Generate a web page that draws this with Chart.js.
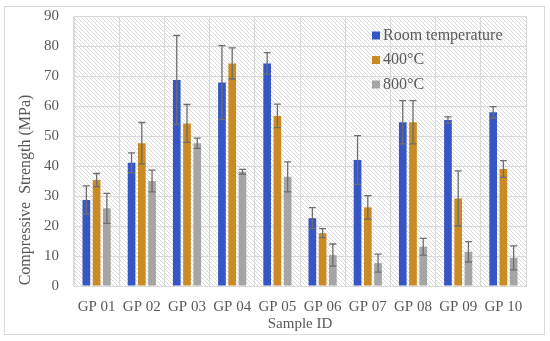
<!DOCTYPE html>
<html lang="en">
<head>
    <meta charset="UTF-8" />
    <title>Compressive Strength</title>
    <script src="https://cdn.jsdelivr.net/npm/chart.js"></script>
    <style>
        html, body { margin: 0; padding: 0; background: #fff; }
        #wrap { width: 550px; height: 341px; position: relative; }
    </style>
</head>

<body>

<div id="wrap">
    <canvas id="cs_chart" width="550" height="341"></canvas>
</div>

<script>
// sample ids
const labels = ["GP 01", "GP 02", "GP 03", "GP 04", "GP 05", "GP 06", "GP 07", "GP 08", "GP 09", "GP 10"];

// compressive strength (MPa) and error
const roomTemp    = [28.7, 41.1, 68.7, 67.8, 74.2, 22.6, 42.0, 54.6, 55.3, 57.9];
const roomTempErr = [4.7, 3.3, 14.8, 12.3, 3.6, 3.5, 8.1, 7.2, 1.1, 1.9];
const temp400     = [35.3, 47.6, 54.2, 74.2, 56.7, 17.6, 26.2, 54.6, 29.2, 39.0];
const temp400Err  = [2.2, 6.9, 6.3, 5.2, 3.9, 1.5, 3.9, 7.2, 9.2, 2.8];
const temp800     = [25.9, 35.0, 47.6, 38.1, 36.4, 10.3, 7.6, 13.1, 11.4, 9.4];
const temp800Err  = [5.0, 3.6, 1.7, 0.8, 5.0, 3.7, 3.0, 2.8, 3.4, 4.0];

const seriesNames = ["Room temperature", "400°C", "800°C"];
const yTitle = "Compressive  Strength (MPa)";

const textColor = "#595959";
const gridColor = "#d9d9d9";
const serif = "'Liberation Serif', 'DejaVu Serif', serif";

// hatched plot background
function makeHatch() {
    let c = document.createElement("canvas");
    c.width = 4; c.height = 4;
    let g = c.getContext("2d");
    g.fillStyle = "#fff";
    g.fillRect(0, 0, 4, 4);
    g.strokeStyle = "#d6d6d6";
    g.lineWidth = 0.9;
    g.beginPath();
    for (let k = -4; k <= 4; k += 4) {
        g.moveTo(-1, -1 + k);
        g.lineTo(5, 5 + k);
    }
    g.stroke();
    return c;
}

const backgroundPlugin = {
    id: "background",
    beforeDraw(chart) {
        let ctx = chart.ctx;
        let a = chart.chartArea;
        ctx.save();
        ctx.fillStyle = "#fff";
        ctx.fillRect(0, 0, chart.width, chart.height);
        ctx.strokeStyle = gridColor;
        ctx.lineWidth = 1;
        ctx.strokeRect(4.5, 6.5, 540, 328);
        ctx.fillStyle = ctx.createPattern(makeHatch(), "repeat");
        ctx.fillRect(a.left, a.top, a.right - a.left, a.bottom - a.top);
        ctx.restore();
    }
};

const errorBarPlugin = {
    id: "errorBars",
    afterDatasetsDraw(chart) {
        let ctx = chart.ctx;
        let y = chart.scales.y;
        ctx.save();
        ctx.strokeStyle = "#6e6e6e";
        ctx.lineWidth = 1.3;
        chart.data.datasets.forEach((ds, i) => {
            let meta = chart.getDatasetMeta(i);
            meta.data.forEach((bar, j) => {
                let v = ds.data[j], e = ds.errors[j];
                let top = y.getPixelForValue(v + e);
                let bot = y.getPixelForValue(v - e);
                let x = bar.x;
                ctx.beginPath();
                ctx.moveTo(x, top); ctx.lineTo(x, bot);
                ctx.moveTo(x - 3.5, top); ctx.lineTo(x + 3.5, top);
                ctx.moveTo(x - 3.5, bot); ctx.lineTo(x + 3.5, bot);
                ctx.stroke();
            });
        });
        ctx.restore();
    }
};

// legend inside the plot + y axis title (sits low, like the original)
const legendPlugin = {
    id: "insideLegend",
    afterDraw(chart) {
        let ctx = chart.ctx;
        ctx.save();
        ctx.font = "16px " + serif;
        ctx.textBaseline = "middle";
        chart.data.datasets.forEach((ds, i) => {
            let cy = 35.5 + i * 24.5;
            ctx.fillStyle = ds.backgroundColor;
            ctx.fillRect(372, cy - 4, 8, 8);
            ctx.fillStyle = textColor;
            ctx.fillText(ds.label, 383, cy);
        });

        ctx.translate(26, 190);
        ctx.rotate(-Math.PI / 2);
        ctx.textAlign = "center";
        ctx.fillText(yTitle, 0, 0);
        ctx.restore();
    }
};

let ctx = document.getElementById("cs_chart").getContext("2d");
new Chart(ctx, {
    type: "bar",
    data: {
        labels: labels,
        datasets: [
            { label: seriesNames[0], data: roomTemp, errors: roomTempErr, backgroundColor: "#3656c6" },
            { label: seriesNames[1], data: temp400, errors: temp400Err, backgroundColor: "#cb8b24" },
            { label: seriesNames[2], data: temp800, errors: temp800Err, backgroundColor: "#a5a5a5" }
        ]
    },
    options: {
        responsive: false,
        animation: false,
        devicePixelRatio: 1,
        layout: { padding: { left: 16, right: 24, top: 16, bottom: 8 } },
        datasets: { bar: { categoryPercentage: 0.68, barPercentage: 0.75 } },
        plugins: {
            legend: { display: false },
            tooltip: { enabled: false }
        },
        scales: {
            x: {
                grid: { color: gridColor, drawTicks: false, offset: true },
                border: { color: gridColor },
                ticks: { color: textColor, font: { family: serif, size: 15 }, padding: 12, maxRotation: 0 },
                title: { display: true, text: "Sample ID", color: textColor, font: { family: serif, size: 15 }, padding: { top: 0, bottom: 0 } },
                afterFit: s => { s.height = 47; }
            },
            y: {
                min: 0,
                max: 90,
                grid: { color: gridColor, drawTicks: false },
                border: { color: gridColor },
                ticks: { stepSize: 10, color: textColor, font: { family: serif, size: 15 }, padding: 15 },
                afterFit: s => { s.width = 58; s.paddingTop = 8; s.paddingBottom = 8; }
            }
        }
    },
    plugins: [backgroundPlugin, errorBarPlugin, legendPlugin]
});
</script>

</body>
</html>
